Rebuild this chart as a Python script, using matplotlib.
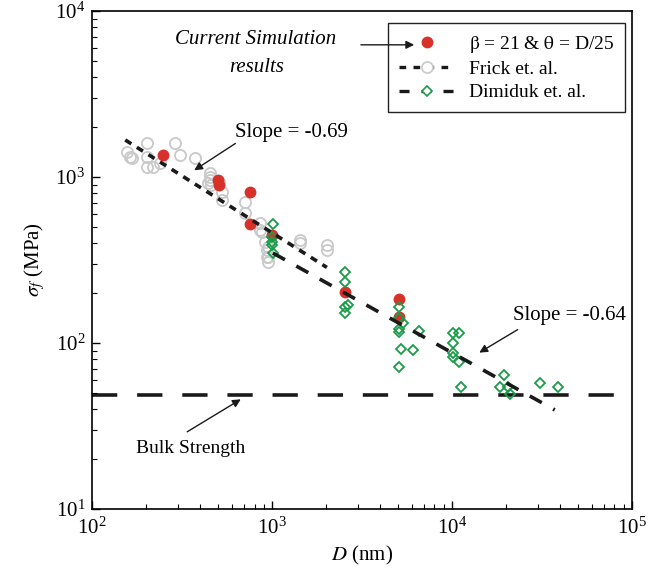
import matplotlib
matplotlib.use("Agg")
import matplotlib.pyplot as plt
from matplotlib.lines import Line2D
import numpy as np

plt.rcParams['font.family'] = ['Liberation Serif', 'DejaVu Serif']
plt.rcParams['mathtext.fontset'] = 'stix'

# Current simulation results (D in nm, sigma_f in MPa)
sim_D = [248, 501, 510, 755, 755, 1000, 2540, 5080, 5080]
sim_S = [1358, 955, 900, 813, 521, 447, 203, 184, 143]

# Frick et al. data
frick_D = [156, 163, 167, 202, 202, 202, 218, 239, 289, 308, 373, 453, 453, 441,
           453, 460, 527, 527, 708, 708, 858, 858, 914, 937, 937,
           880, 950, 950, 950, 1430, 1430, 2020, 2020, 510]
frick_S = [1416, 1320, 1300, 1600, 1320, 1150, 1150, 1213, 1600, 1360, 1300, 1057, 960, 925,
           1000, 895, 727, 813, 707, 607, 528, 480, 406, 363, 330,
           467, 378, 330, 308, 417, 400, 389, 363, 930]

# Dimiduk et al. data
dim_D = [1013, 1000, 1000, 1000, 1013,
         2545, 2545, 2545, 2545, 2643,
         5080, 5080, 5350, 5080, 5080, 6560, 5210, 6070, 5080,
         10130, 10940, 10130, 10130, 10200, 10940, 11220,
         19440, 18490, 20460, 21000, 30800, 38800]
dim_S = [521, 436, 406, 389, 348,
         268, 233, 165, 152, 169,
         165, 142, 132, 121, 116, 118, 92, 91, 72,
         115, 115, 100, 87, 82, 77, 54,
         64, 54, 54, 49, 57, 54]

# Fit lines (end points)
frick_fit_D = [153, 2020]
frick_fit_S = [1670, 285]
dim_fit_D = [1013, 37300]
dim_fit_S = [348, 39.5]

bulk_strength = 48.5

red = '#d8312a'
green = '#1a9c48'
gray = '#c9c9c9'

fig = plt.figure(figsize=(6.48, 5.77), dpi=100)
ax = fig.add_axes([0.142, 0.118, 0.833, 0.863])
ax.set_xscale('log')
ax.set_yscale('log')
ax.set_xlim(1e2, 1e5)
ax.set_ylim(1e1, 1e4)

ax.axhline(bulk_strength, color='#1a1a1a', lw=2.6, dashes=(7, 5.5), zorder=1)

ax.plot(frick_D, frick_S, 'o', ms=8, mfc='none', mec=gray, mew=1.3, zorder=2)
ax.plot(dim_D, dim_S, 'D', ms=5.6, mfc='none', mec=green, mew=1.3, zorder=4)
ax.plot(sim_D, sim_S, 'o', ms=7.5, color=red, mec=red, zorder=3)

ax.plot(frick_fit_D, frick_fit_S, color='#1a1a1a', lw=2.6, dashes=(2.0, 1.8), zorder=5)
ax.plot(dim_fit_D, dim_fit_S, color='#1a1a1a', lw=2.6, dashes=(3.8, 3.6), zorder=5)

ax.tick_params(which='both', direction='in', top=False, right=False, labelsize=15)
ax.tick_params(which='major', length=6, width=1)
ax.tick_params(which='minor', length=3.5, width=0.8)
ax.tick_params(axis='x', pad=6)
ax.tick_params(axis='y', pad=5)
for s in ax.spines.values():
    s.set_linewidth(1.2)

ax.set_xlabel(r'$D$ (nm)', fontsize=15, labelpad=4)
ax.set_ylabel(r'$\sigma_f$ (MPa)', fontsize=15, labelpad=6)

# legend
h1 = Line2D([], [], ls='none', marker='o', ms=7.5, color=red)
h2 = Line2D([], [], color='#1a1a1a', lw=2.4, dashes=(2.0, 2.2), marker='o', ms=8,
            mfc='white', mec=gray, mew=1.2)
h3 = Line2D([], [], color='#1a1a1a', lw=2.4, dashes=(3.0, 3.6), marker='D', ms=5.6,
            mfc='white', mec=green, mew=1.2)
leg = ax.legend([h1, h2, h3], [r'$\mathrm{\beta}$ = 21 & $\mathrm{\theta}$ = D/25', 'Frick et. al.', 'Dimiduk et. al.'],
                loc='upper right', bbox_to_anchor=(0.987, 0.976), borderaxespad=0,
                fancybox=False, edgecolor='#222222', fontsize=14, handlelength=2.9,
                labelspacing=0.3, borderpad=0.55, handletextpad=0.7, framealpha=1)
leg.get_frame().set_linewidth(1.0)
leg.set_zorder(6)

arrow = dict(arrowstyle='-|>', color='#1a1a1a', lw=1.0, mutation_scale=12)

ax.text(0.304, 0.942, 'Current Simulation', transform=ax.transAxes, fontsize=15,
        style='italic', ha='center', va='center')
ax.text(0.304, 0.886, 'results', transform=ax.transAxes, fontsize=15,
        style='italic', ha='center', va='center')
ax.annotate('', xy=(0.602, 0.932), xytext=(0.493, 0.932), xycoords='axes fraction',
            arrowprops=arrow, zorder=10)

ax.text(0.370, 0.755, 'Slope = -0.69', transform=ax.transAxes, fontsize=15,
        ha='center', va='center')
ax.annotate('', xy=(0.185, 0.677), xytext=(0.270, 0.737), xycoords='axes fraction',
            arrowprops=arrow)

ax.text(0.885, 0.388, 'Slope = -0.64', transform=ax.transAxes, fontsize=15,
        ha='center', va='center')
ax.annotate('', xy=(0.713, 0.311), xytext=(0.793, 0.363), xycoords='axes fraction',
            arrowprops=arrow)

ax.text(0.182, 0.122, 'Bulk Strength', transform=ax.transAxes, fontsize=14,
        ha='center', va='center')
ax.annotate('', xy=(0.280, 0.223), xytext=(0.172, 0.152), xycoords='axes fraction',
            arrowprops=arrow)

fig.savefig('out.png', dpi=100)
